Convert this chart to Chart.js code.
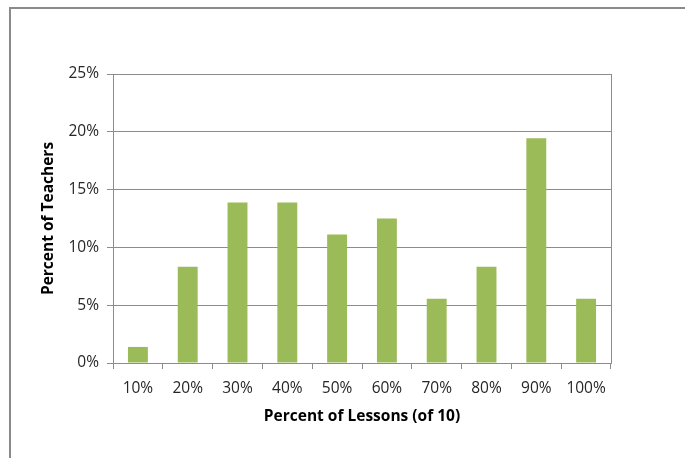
<!DOCTYPE html>
<html>
<head>
<meta charset="utf-8">
<script src="https://cdn.jsdelivr.net/npm/chart.js@4"></script>
<style>
  html, body { margin: 0; padding: 0; background: #fff; overflow: hidden; }
  #wrap { position: relative; width: 685px; height: 458px; }
  #frame { position: absolute; left: 9px; top: 7px; width: 720px; height: 500px; border: 2px solid #8a8a8a; box-sizing: border-box; }
  canvas { position: absolute; left: 0; top: 0; }
</style>
</head>
<body>
<div id="wrap">
  <div id="frame"></div>
  <canvas id="chart" width="685" height="458"></canvas>
</div>
<script>
const lessonLabels = ['10%', '20%', '30%', '40%', '50%', '60%', '70%', '80%', '90%', '100%'];
// share of teachers (percent)
const teacherShare = [1.39, 8.33, 13.89, 13.89, 11.11, 12.5, 5.56, 8.33, 19.44, 5.56];
const yTicks = [0, 5, 10, 15, 20, 25];

const gridColor = '#8c8c8c';

// plot area right border, like the spreadsheet original
const plotBorder = {
  id: 'plotBorder',
  afterDraw(chart) {
    const a = chart.chartArea;
    const ctx = chart.ctx;
    ctx.save();
    ctx.strokeStyle = gridColor;
    ctx.lineWidth = 1;
    ctx.beginPath();
    ctx.moveTo(Math.round(a.right) + 0.5, a.top);
    ctx.lineTo(Math.round(a.right) + 0.5, a.bottom);
    ctx.stroke();
    ctx.restore();
  }
};

new Chart(document.getElementById('chart').getContext('2d'), {
  type: 'bar',
  data: {
    labels: lessonLabels,
    datasets: [{
      data: teacherShare,
      backgroundColor: '#9bbb59',
      barPercentage: 0.4,
      categoryPercentage: 1.0
    }]
  },
  options: {
    responsive: false,
    animation: false,
    events: [],
    layout: { padding: { left: 39, right: 74, top: 74, bottom: 32 } },
    plugins: { legend: { display: false }, tooltip: { enabled: false } },
    scales: {
      x: {
        afterFit: s => { s.height = 63; },
        grid: { drawOnChartArea: false, color: gridColor, tickLength: 6 },
        border: { color: gridColor },
        ticks: { color: '#262626', padding: 10, font: { family: 'Open Sans', size: 15.5 } },
        title: {
          display: true, text: 'Percent of Lessons (of 10)', color: '#000',
          padding: { top: 0, bottom: 0 },
          font: { family: 'Open Sans', size: 15.5, weight: 'bold' }
        }
      },
      y: {
        min: 0, max: 25,
        afterFit: s => { s.width = 74; },
        afterBuildTicks: s => { s.ticks = yTicks.map(v => ({ value: v })); },
        grid: { color: gridColor, tickLength: 6 },
        border: { color: gridColor },
        ticks: {
          color: '#262626', padding: 8,
          font: { family: 'Open Sans', size: 15.5 },
          callback: v => v + '%'
        },
        title: {
          display: true, text: 'Percent of Teachers', color: '#000',
          padding: { top: 0, bottom: 0 },
          font: { family: 'Open Sans', size: 15.5, weight: 'bold' }
        }
      }
    }
  },
  plugins: [plotBorder]
});
</script>
</body>
</html>
